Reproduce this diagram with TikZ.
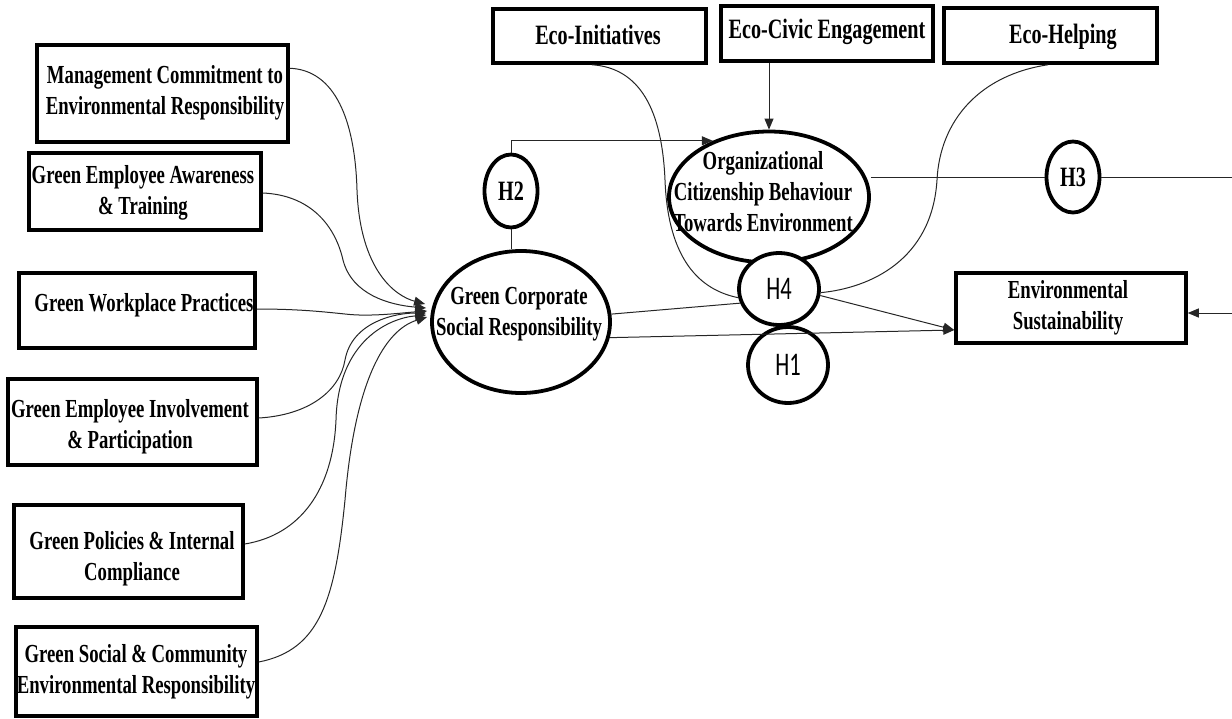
\documentclass[tikz,border=0pt]{standalone}
\usepackage{fontspec}
\setmainfont{Liberation Serif}[FakeStretch=0.72]
\newfontfamily\hfont{Carlito}[FakeStretch=0.68]
\usetikzlibrary{shapes.geometric,arrows.meta,calc}
\begin{document}
\begin{tikzpicture}[x=1pt,y=-1pt,
  box/.style={draw, line width=3.5pt, inner sep=0pt},
  txt/.style={inner sep=0pt, align=center, font=\fontsize{26}{31}\selectfont\bfseries},
  txtL/.style={inner sep=0pt, align=center, font=\fontsize{28}{31}\selectfont\bfseries},
  oval/.style={draw, ellipse, line width=3.8pt, fill=white, inner sep=0pt},
  hypT/.style={oval, font=\fontsize{28}{31}\selectfont\bfseries},
  hypS/.style={oval, font=\fontsize{33}{31}\selectfont\hfont},
  link/.style={line width=1pt, draw=black!85},
  arr/.style={link, -{Triangle[length=11pt,width=9pt]}}]
\useasboundingbox (0,0) rectangle (1232,718);

% left boxes
\node[box, minimum width=251pt, minimum height=97pt] (m1) at (162.5,93.5) {};
\node[txt] (t1) at (165,93) {Management Commitment to\\Environmental Responsibility};
\node[box, minimum width=232pt, minimum height=77pt] (m2) at (145,191.5) {};
\node[txt] (t2) at (143,193) {Green Employee Awareness\\\& Training};
\node[box, minimum width=236pt, minimum height=75pt] (m3) at (137,310.5) {};
\node[txt] (t3) at (144,305) {Green Workplace Practices};
\node[box, minimum width=249pt, minimum height=86pt] (m4) at (132.5,422) {};
\node[txt] (t4) at (130,427) {Green Employee Involvement\\\& Participation};
\node[box, minimum width=229pt, minimum height=93pt] (m5) at (128.5,551.5) {};
\node[txt] (t5) at (132,559) {Green Policies \& Internal\\Compliance};
\node[box, minimum width=241pt, minimum height=89pt] (m6) at (136.5,671.5) {};
\node[txt] (t6) at (136,672) {Green Social \& Community\\Environmental Responsibility};

% top boxes
\node[box, minimum width=213pt, minimum height=54pt] (e1) at (599.5,36) {};
\node[txtL] (te1) at (598,35) {Eco-Initiatives};
\node[box, minimum width=212pt, minimum height=55pt] (e2) at (827,33.5) {};
\node[txtL] (te2) at (827,32) {Eco-Civic Engagement};
\node[box, minimum width=213pt, minimum height=55pt] (e3) at (1050.5,35.5) {};
\node[txtL] (te3) at (1063,37) {Eco-Helping};

% outcome box
\node[box, minimum width=230pt, minimum height=70pt] (es) at (1071,308) {};
\node[txt] (tes) at (1068,308) {Environmental\\Sustainability};

% ellipses
\node[oval, minimum width=178pt, minimum height=142pt] (gcsr) at (521,322) {};
\node[txt] (tg) at (519,314) {Green Corporate\\Social Responsibility};
\node[oval, minimum width=200pt, minimum height=131pt] (ocbe) at (769,197) {};
\node[txt] (to) at (763,192) {Organizational\\Citizenship Behaviour\\Towards Environment};

% hypotheses
\node[hypT, minimum width=53pt, minimum height=73pt] (h2) at (511,191) {H2};
\node[hypT, minimum width=53pt, minimum height=71pt] (h3) at (1073,177) {H3};
\node[hypS, minimum width=80pt, minimum height=76pt] (h1) at (788,365) {H1};
\node[hypS, minimum width=80pt, minimum height=72pt] (h4) at (779,289) {H4};

% edge coordinates
\coordinate (edgeA) at (1232,177);
\coordinate (edgeB) at (1232,313);

% dimension curves into GCSR
\draw[arr] ([yshift=-25pt]m1.north east) .. controls (335,70) and (355,120) .. (357,190)
  .. controls (360,270) and (395,296) .. ($(gcsr.west)+(-5,-18)$);
\draw[arr] (m2.east |- 0,193) .. controls (310,195) and (335,225) .. (343,260)
  .. controls (352,295) and (390,305) .. ($(gcsr.west)+(-4,-14)$);
\draw[arr] (m3.east |- 0,309) .. controls (300,309) and (325,312) .. (345,314)
  .. controls (370,317) and (400,313) .. ($(gcsr.west)+(-3,-11)$);
\draw[arr] (m4.east |- 0,418) .. controls (310,415) and (340,390) .. (345,360)
  .. controls (352,322) and (395,313) .. ($(gcsr.west)+(-4,-9)$);
\draw[arr] (m5.east |- 0,544) .. controls (300,535) and (333,490) .. (336,420)
  .. controls (338,340) and (390,318) .. ($(gcsr.west)+(-4,-7)$);
\draw[arr] (m6.east |- 0,662) .. controls (320,650) and (335,600) .. (345,500)
  .. controls (355,380) and (385,330) .. ($(gcsr.west)+(-3,-5)$);

% H2 path
\draw[link] (h2.south) -- (h2.south |- gcsr.north);
\draw[arr] (h2.north) |- (ocbe.135);

% Eco-Civic arrow
\draw[arr] (ocbe.north |- e2.south) -- (ocbe.north);

% Eco-Initiatives and Eco-Helping curves into H4
\draw[link] ([xshift=-7.5pt]e1.south) .. controls (640,68) and (662,110) .. (665,180)
  .. controls (668,260) and (700,290) .. (h4.192);
\draw[link] ([xshift=-2.5pt]e3.south) .. controls (980,75) and (940,120) .. (937,180)
  .. controls (932,260) and (870,288) .. (h4.-5);

% H3 path
\draw[link] (ocbe.east |- h3.west) -- (h3.west);
\draw[link] (h3.east) -- (edgeA);
\draw[arr] (edgeB) -- (es.east |- edgeB);

% H4 mediation and H1 direct
\draw[link] (gcsr.5) -- (h4.200);
\draw[arr] (h4.-9) -- ([yshift=-22pt]es.west);
\draw[arr] (gcsr.-10) -- ([yshift=-22pt]es.west);
\end{tikzpicture}
\end{document}
